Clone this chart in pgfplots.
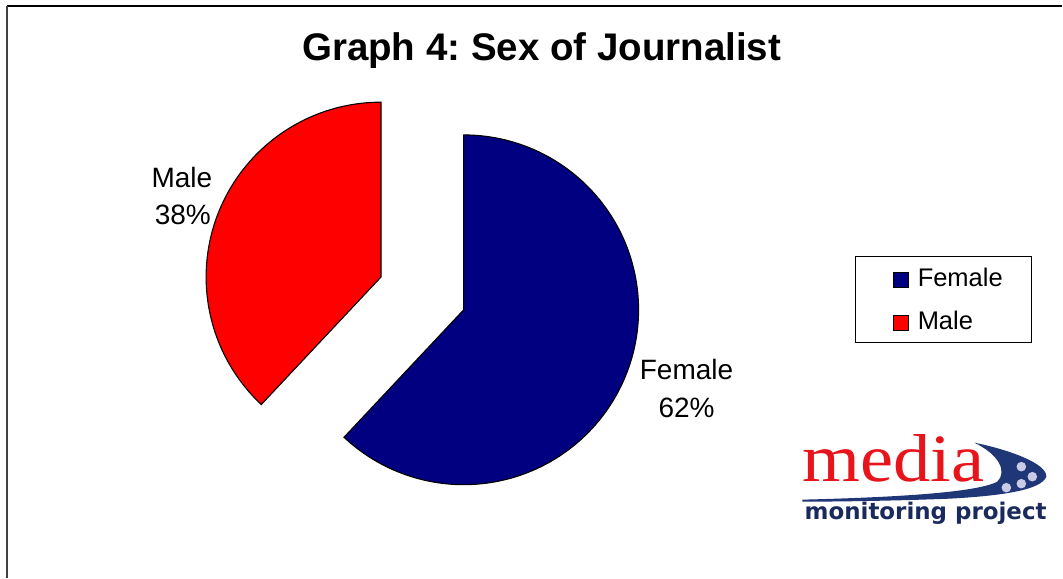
\documentclass[border=0pt]{standalone}
\usepackage{pgfplots}
\pgfplotsset{compat=1.18}
\usepackage{pgfplotstable}
\usepackage{graphicx}
\usepackage{fontspec}
\setmainfont{Liberation Sans}
\newfontfamily\serifr{Liberation Serif}
\newfontfamily\logosans{DejaVu Sans}
\definecolor{femcol}{HTML}{000080}
\definecolor{malecol}{HTML}{FF0000}
\definecolor{mediared}{HTML}{E8141C}
\definecolor{swoosh}{HTML}{1F3677}
\definecolor{dotcol}{HTML}{C8CAE6}
\definecolor{mmpnavy}{HTML}{1B2A5C}

\pgfplotstableread{
label value
Female 62
Male 38
}\piedata

\pgfplotstablegetelem{0}{value}\of\piedata \let\vF\pgfplotsretval
\pgfplotstablegetelem{1}{value}\of\piedata \let\vM\pgfplotsretval
% pie geometry (pixel units, y downwards negated)
\def\cx{464}\def\cy{-310}\def\R{175}\def\explode{89}
\pgfmathsetmacro\aF{90-3.6*\vF}
\pgfmathsetmacro\aM{90+3.6*\vM}
\pgfmathsetmacro\midM{90+1.8*\vM}
\pgfmathsetmacro\mx{\cx+\explode*cos(\midM)}
\pgfmathsetmacro\my{\cy+\explode*sin(\midM)}

\begin{document}
\frenchspacing
\begin{tikzpicture}
\begin{axis}[
  scale only axis, width=1063pt, height=578pt,
  xmin=0, xmax=1063, ymin=-578, ymax=0,
  hide axis, clip=false,
  legend image code/.code={\path[draw=none,fill=none] (-9pt,0pt) -- (0pt,0pt);
    \draw[#1,draw=black,line width=0.8pt] (0pt,-10.3pt) rectangle (15pt,4.7pt);},
  legend style={at={(axis description cs:0.80527,0.55709)}, anchor=north west,
    draw=black, line width=0.9pt, fill=white,
    inner xsep=28.5pt, inner ysep=11.5pt,
    nodes={inner sep=0pt, text depth=0pt},
    cells={anchor=west},
    column sep=9pt, row sep=23.4pt,
    font=\fontsize{25.5}{30}\selectfont},
]
\path (axis cs:0,0) rectangle (axis cs:1063,-578);
% frame lines
\draw[black, line width=1.4pt] (axis cs:7,-6) -- (axis cs:1063,-6);
\draw[black!75, line width=2.2pt] (axis cs:7,-6) -- (axis cs:7,-578);

\addplot[fill=femcol, draw=black, line width=1.1pt, domain=\aF:90, samples=150, variable=\t]
  ({\cx+\R*cos(t)}, {\cy+\R*sin(t)}) -- (axis cs:\cx,\cy) -- cycle;
\addlegendentry{Female}
\addplot[fill=malecol, draw=black, line width=1.1pt, domain=90:\aM, samples=120, variable=\t]
  ({\mx+\R*cos(t)}, {\my+\R*sin(t)}) -- (axis cs:\mx,\my) -- cycle;
\addlegendentry{Male}

% title
\node[anchor=base, font=\bfseries\fontsize{38.5}{42}\selectfont, inner sep=0pt] at (axis cs:542,-61) {Graph 4: Sex of Journalist};

% data labels
\node[anchor=base, font=\fontsize{28}{32}\selectfont, inner sep=0pt] at (axis cs:182,-188) {Male};
\node[anchor=base, font=\fontsize{28}{32}\selectfont, inner sep=0pt] at (axis cs:183,-225) {38\%};
\node[anchor=base, font=\fontsize{28}{32}\selectfont, inner sep=0pt] at (axis cs:687,-380) {Female};
\node[anchor=base, font=\fontsize{28}{32}\selectfont, inner sep=0pt] at (axis cs:687,-418) {62\%};

% logo
\fill[swoosh] (axis cs:975,-443)
  .. controls (axis cs:1010,-450) and (axis cs:1048,-464) .. (axis cs:1047,-477)
  .. controls (axis cs:1042,-490) and (axis cs:1005,-496) .. (axis cs:950,-499)
  .. controls (axis cs:900,-501) and (axis cs:840,-502) .. (axis cs:803,-502)
  -- (axis cs:803,-500)
  .. controls (axis cs:880,-498) and (axis cs:975,-494) .. (axis cs:998,-482)
  .. controls (axis cs:1008,-472) and (axis cs:1000,-455) .. (axis cs:975,-443) -- cycle;
\fill[dotcol] (axis cs:1022,-467) circle[radius=4.8pt];
\fill[dotcol] (axis cs:1033,-477) circle[radius=4.8pt];
\fill[dotcol] (axis cs:1007,-488) circle[radius=4.8pt];
\fill[dotcol] (axis cs:1022,-484) circle[radius=4.8pt];
\node[anchor=base west, inner sep=0pt, text=mediared] at (axis cs:803,-482) {\resizebox{182pt}{47pt}{\serifr media}};
\node[anchor=base west, inner sep=0pt, text=mmpnavy] at (axis cs:805,-520) {\resizebox{242pt}{!}{\logosans\bfseries monitoring project}};
\end{axis}
\end{tikzpicture}
\end{document}
